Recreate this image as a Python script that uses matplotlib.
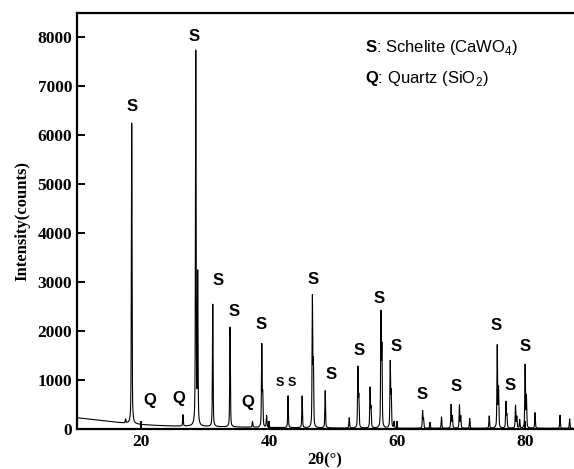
import matplotlib
matplotlib.use('Agg')
import matplotlib.pyplot as plt
import numpy as np

plt.rcParams['mathtext.fontset'] = 'custom'
plt.rcParams['mathtext.rm'] = 'Liberation Sans'
plt.rcParams['mathtext.bf'] = 'Liberation Sans:bold'

# Peak positions (2theta, deg) and heights above background (counts)
peak_pos = [17.6, 18.55, 26.55, 28.55, 28.85, 31.2, 33.9, 37.4, 38.85, 39.0, 39.6,
            42.95, 45.15, 46.75, 46.9, 48.75, 52.5, 53.85, 54.0, 55.75, 55.9,
            57.45, 57.6, 58.9, 59.05, 59.5, 63.95, 64.1, 65.1, 66.9, 68.4, 68.6,
            69.7, 69.9, 71.3, 74.35, 75.6, 75.8, 76.95, 77.1, 78.45, 78.65, 79.1,
            79.95, 80.15, 81.5, 85.4, 86.9]
peak_height = [80, 6150, 230, 7650, 3050, 2500, 2040, 120, 1670, 640, 240,
               650, 650, 2630, 1250, 760, 210, 1220, 620, 810, 400,
               2290, 1580, 1330, 700, 130, 350, 180, 120, 230, 480, 240,
               470, 240, 200, 250, 1680, 800, 530, 260, 460, 230, 170,
               1290, 640, 320, 270, 190]

# background level read at a few angles
bg_pos = [10, 12, 14, 16, 18, 20, 22, 25, 28, 32, 40, 50, 60, 70, 88]
bg_val = [230, 200, 170, 140, 110, 90, 75, 60, 55, 45, 30, 20, 15, 15, 15]

# peak labels: (x, y)
s_labels = [(18.6, 6590), (28.3, 8020), (32.05, 3030), (34.5, 2400), (38.8, 2140),
            (46.9, 3060), (49.6, 1120), (54.0, 1600), (57.2, 2670), (59.8, 1680),
            (63.9, 715), (69.1, 865), (75.4, 2105), (77.6, 880), (79.9, 1680)]
s_small = [(41.7, 935), (43.6, 935)]
q_labels = [(21.4, 590), (25.96, 630), (36.6, 540)]

# build the pattern from the peak list
two_theta = np.linspace(10, 88, 8000)
intensity = np.interp(two_theta, bg_pos, bg_val)
w = 0.06
for p, h in zip(peak_pos, peak_height):
    intensity += h * (0.5 / (1 + ((two_theta - p) / w) ** 2)
                      + 0.5 * np.exp(-np.log(2) * ((two_theta - p) / w) ** 2))

fig = plt.figure(figsize=(5.74, 4.69), dpi=100)
ax = fig.add_axes([0.134, 0.0853, 0.864, 0.887])
ax.plot(two_theta, intensity, color='black', lw=0.8)

ax.set_xlim(10, 87.4)
ax.set_ylim(0, 8500)
ax.set_xticks([20, 40, 60, 80])
ax.set_yticks(range(0, 8001, 1000))

for s in ['left', 'top', 'bottom']:
    ax.spines[s].set_linewidth(1.6)
ax.spines['right'].set_visible(False)
ax.tick_params(direction='in', length=6, width=1.4)
for lab in ax.get_xticklabels() + ax.get_yticklabels():
    lab.set_family('Liberation Serif')
    lab.set_fontweight('bold')
    lab.set_fontsize(12.5)

ax.set_xlabel('2θ(°)', family='Liberation Serif', fontweight='bold', fontsize=12, labelpad=1)
ax.set_ylabel('Intensity(counts)', family='Liberation Serif', fontweight='bold', fontsize=12, labelpad=5)

for x, y in s_labels:
    ax.text(x, y, 'S', family='Liberation Sans', fontweight='bold', fontsize=12,
            ha='center', va='center')
for x, y in s_small:
    ax.text(x, y, 'S', family='Liberation Sans', fontweight='bold', fontsize=9,
            ha='center', va='center')
for x, y in q_labels:
    ax.text(x, y, 'Q', family='Liberation Sans', fontweight='bold', fontsize=12,
            ha='center', va='center')

ax.text(0.58, 0.918, r'$\mathbf{S}$: Schelite (CaWO$_4$)', transform=ax.transAxes,
        family='Liberation Sans', fontsize=12, va='center')
ax.text(0.58, 0.843, r'$\mathbf{Q}$: Quartz (SiO$_2$)', transform=ax.transAxes,
        family='Liberation Sans', fontsize=12, va='center')

plt.savefig('out.png', dpi=100)
